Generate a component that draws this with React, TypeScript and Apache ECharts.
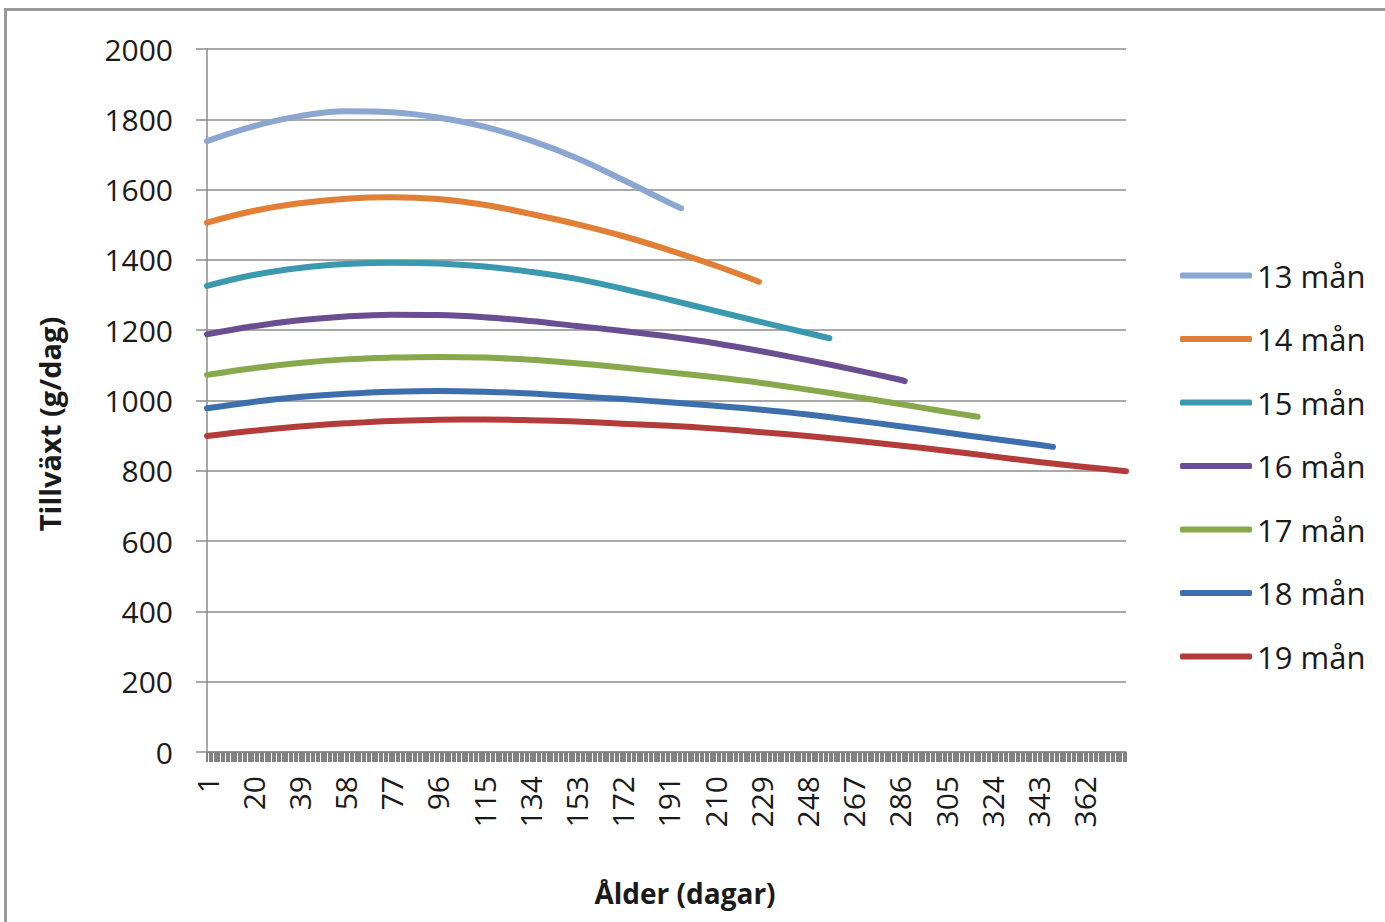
import React, { useEffect, useRef } from "react";
import * as echarts from "echarts";

const dayCount = 379;
const categories: string[] = Array.from({ length: dayCount }, (_, i) => String(i + 1));

const seriesNames = ["13 mån", "14 mån", "15 mån", "16 mån", "17 mån", "18 mån", "19 mån"];
const seriesColors = ["#8CA6D2", "#E07F35", "#3A98AF", "#6B4E91", "#87A84B", "#3E6FAD", "#B33C3A"];

const days13 = [1, 20, 39, 58, 77, 96, 115, 134, 153, 172, 191, 196];
const vals13 = [1738, 1780, 1809, 1823, 1820, 1805, 1779, 1740, 1690, 1628, 1563, 1547];

const days14 = [1, 20, 39, 58, 77, 96, 115, 134, 153, 172, 191, 210, 228];
const vals14 = [1506, 1539, 1561, 1574, 1578, 1573, 1557, 1531, 1502, 1468, 1428, 1384, 1338];

const days15 = [1, 20, 39, 58, 77, 96, 115, 134, 153, 172, 191, 210, 229, 248, 257];
const vals15 = [1326, 1357, 1377, 1388, 1392, 1390, 1381, 1366, 1346, 1318, 1287, 1255, 1223, 1192, 1177];

const days16 = [1, 20, 39, 58, 77, 96, 115, 134, 153, 172, 191, 210, 229, 248, 267, 286, 288];
const vals16 = [1188, 1211, 1228, 1239, 1244, 1243, 1237, 1226, 1212, 1198, 1182, 1163, 1140, 1115, 1088, 1059, 1055];

const days17 = [1, 20, 39, 58, 77, 96, 115, 134, 153, 172, 191, 210, 229, 248, 267, 286, 305, 318];
const vals17 = [1073, 1092, 1107, 1117, 1122, 1124, 1122, 1116, 1106, 1094, 1080, 1066, 1050, 1031, 1011, 990, 968, 954];

const days18 = [1, 20, 39, 58, 77, 96, 115, 134, 153, 172, 191, 210, 229, 248, 267, 286, 305, 324, 343, 349];
const vals18 = [978, 996, 1010, 1019, 1025, 1027, 1025, 1020, 1012, 1004, 995, 985, 974, 960, 944, 927, 909, 891, 874, 868];

const days19 = [1, 20, 39, 58, 77, 96, 115, 134, 153, 172, 191, 210, 229, 248, 267, 286, 305, 324, 343, 362, 379];
const vals19 = [899, 914, 926, 935, 942, 945, 946, 944, 940, 934, 928, 920, 910, 899, 886, 872, 857, 841, 825, 811, 799];

const seriesDays = [days13, days14, days15, days16, days17, days18, days19];
const seriesVals = [vals13, vals14, vals15, vals16, vals17, vals18, vals19];

const yTicks = { min: 0, max: 2000, interval: 200 };

const FONT = "'Open Sans', 'Noto Sans', sans-serif";

export default function App() {
  const ref = useRef<HTMLDivElement>(null);

  useEffect(() => {
    if (!ref.current) return;
    const chart = echarts.init(ref.current, undefined, { renderer: "svg" });

    const series = seriesNames.map((name, k) => ({
      name,
      type: "line",
      color: seriesColors[k],
      smooth: 0.4,
      symbol: "none",
      showSymbol: false,
      lineStyle: { width: 6, color: seriesColors[k], cap: "round", join: "round" },
      data: seriesDays[k].map((d, i) => [String(d), seriesVals[k][i]]),
    }));

    chart.setOption({
      animation: false,
      backgroundColor: "#ffffff",
      grid: { left: 207, right: 259, top: 49, bottom: 170, containLabel: false },
      xAxis: {
        type: "category",
        data: categories,
        boundaryGap: false,
        axisLine: { show: true, lineStyle: { color: "#8c8c8c", width: 1.5 } },
        axisTick: { show: true, interval: 0, length: 10, lineStyle: { color: "#828282", width: 2 } },
        axisLabel: {
          interval: 18,
          rotate: 90,
          margin: 24,
          fontFamily: FONT,
          fontSize: 30,
          color: "#1a1a1a",
        },
        splitLine: { show: false },
      },
      yAxis: {
        type: "value",
        min: yTicks.min,
        max: yTicks.max,
        interval: yTicks.interval,
        axisLine: { show: true, lineStyle: { color: "#8c8c8c", width: 1.5 } },
        axisTick: { show: true, length: 11, lineStyle: { color: "#8c8c8c", width: 1.5 } },
        axisLabel: {
          margin: 34,
          fontFamily: FONT,
          fontSize: 30,
          color: "#1a1a1a",
          formatter: (v: number) => String(v),
        },
        splitLine: { show: true, lineStyle: { color: "#8c8c8c", width: 1.5 } },
      },
      legend: {
        orient: "vertical",
        left: 1175,
        top: 255,
        icon: "roundRect",
        itemWidth: 72,
        itemHeight: 6,
        itemGap: 32.5,
        textStyle: { fontFamily: FONT, fontSize: 31, color: "#1a1a1a", lineHeight: 30 },
        data: seriesNames,
      },
      graphic: [
        {
          type: "rect",
          shape: { x: 5.5, y: 9.5, width: 1500, height: 1000 },
          style: { fill: "none", stroke: "#9a9a9a", lineWidth: 3 },
          silent: true,
        },
        {
          type: "text",
          x: 685,
          y: 893,
          style: {
            text: "Ålder (dagar)",
            fontFamily: FONT,
            fontSize: 28,
            fontWeight: "bold",
            fill: "#1a1a1a",
            align: "center",
            verticalAlign: "middle",
          },
        },
        {
          type: "text",
          x: 49,
          y: 424,
          rotation: Math.PI / 2,
          style: {
            text: "Tillväxt (g/dag)",
            fontFamily: FONT,
            fontSize: 29,
            fontWeight: "bold",
            fill: "#1a1a1a",
            align: "center",
            verticalAlign: "middle",
          },
        },
      ],
      series,
    });

    return () => chart.dispose();
  }, []);

  return (
    <div
      ref={ref}
      style={{ position: "fixed", left: 0, top: 0, width: 1385, height: 922, background: "#fff" }}
    />
  );
}
